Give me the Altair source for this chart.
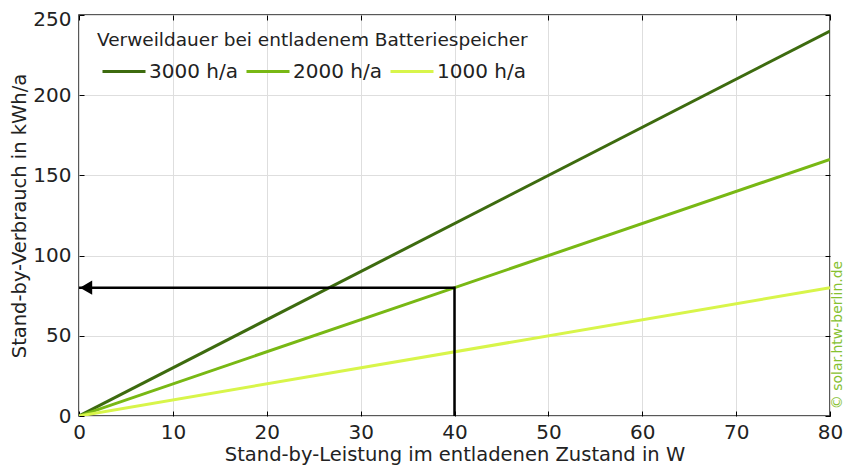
import altair as alt
import pandas as pd

# ---- data ----
power_w = [0, 80]
series = ["3000 h/a", "2000 h/a", "1000 h/a"]
kwh_3000 = [0, 240]
kwh_2000 = [0, 160]
kwh_1000 = [0, 80]
colors = ["#3d6b0f", "#78b814", "#d8f54a"]
arrow_x = [40, 40, 0]
arrow_y = [0, 80, 80]
arrow_order = [0, 1, 2]
head_x = [0.75]
head_y = [80]
x_ticks = [0, 10, 20, 30, 40, 50, 60, 70, 80]
y_ticks = [0, 50, 100, 150, 200, 250]
watermark = ["© solar.htw-berlin.de"]

rows = []
for s, vals in zip(series, [kwh_3000, kwh_2000, kwh_1000]):
    for p, v in zip(power_w, vals):
        rows.append({"series": s, "power": p, "kwh": v})
df = pd.DataFrame(rows)
arrow_df = pd.DataFrame({"x": arrow_x, "y": arrow_y, "o": arrow_order})
head_df = pd.DataFrame({"x": head_x, "y": head_y})
wm_df = pd.DataFrame({"t": watermark})

W, H = 751, 401
FONT = "DejaVu Sans"
TXT = "#222222"
xscale = alt.Scale(domain=[0, 80], nice=False, zero=False)
yscale = alt.Scale(domain=[0, 250], nice=False)

lines = alt.Chart(df).mark_line(strokeWidth=3, clip=True).encode(
    x=alt.X("power:Q", scale=xscale,
            axis=alt.Axis(values=x_ticks, title="Stand-by-Leistung im entladenen Zustand in W",
                          grid=True, gridColor="#dedede", domain=False, ticks=False,
                          labelFlush=False, labelPadding=6, titlePadding=3, format="d")),
    y=alt.Y("kwh:Q", scale=yscale,
            axis=alt.Axis(values=y_ticks, title="Stand-by-Verbrauch in kWh/a",
                          grid=True, gridColor="#dedede", domain=False, ticks=False,
                          labelFlush=False, labelPadding=8, titlePadding=3, format="d",
                          labelOffset=alt.expr("datum.value == 250 ? 4 : 0"))),
    color=alt.Color("series:N", scale=alt.Scale(domain=series, range=colors),
                    legend=alt.Legend(title="Verweildauer bei entladenem Batteriespeicher",
                                      orient="none", legendX=18, legendY=16,
                                      direction="horizontal", columns=3,
                                      symbolType="stroke", symbolSize=1849,
                                      symbolStrokeWidth=3, symbolOffset=4,
                                      labelOffset=2, columnPadding=2,
                                      titlePadding=-1, titleLimit=800, labelLimit=300)),
    detail="series:N",
)

tick_axis = dict(grid=False, domain=False, labels=False, title=None, ticks=True,
                 tickSize=5, tickColor="black", tickWidth=1, offset=-5)

arrow = alt.Chart(arrow_df).mark_line(color="black", strokeWidth=2.5, strokeCap="butt").encode(
    x=alt.X("x:Q", scale=xscale, axis=alt.Axis(values=x_ticks, orient="bottom", **tick_axis)),
    y=alt.Y("y:Q", scale=yscale, axis=alt.Axis(values=y_ticks, orient="left", **tick_axis)),
    order="o:Q",
)

head = alt.Chart(head_df).mark_point(shape="triangle-left", filled=True, color="black",
                                     size=200, opacity=1).encode(
    x=alt.X("x:Q", scale=xscale, axis=alt.Axis(values=x_ticks, orient="top", **tick_axis)),
    y=alt.Y("y:Q", scale=yscale, axis=alt.Axis(values=y_ticks, orient="right", **tick_axis)),
)

wm = alt.Chart(wm_df).mark_text(angle=270, align="center", baseline="alphabetic",
                                fontSize=14, font=FONT, color="#86c130").encode(
    text="t:N", x=alt.value(W + 12), y=alt.value(320)
)

chart = alt.layer(lines, arrow, head, wm).resolve_axis(
    x="independent", y="independent"
).properties(
    width=W, height=H,
    autosize=alt.AutoSizeParams(type="none"),
    padding={"left": 71, "top": 7, "right": 837 - 71 - W, "bottom": 49},
).configure_view(
    stroke="#222222", strokeWidth=1.5
).configure_axis(
    labelFont=FONT, titleFont=FONT, labelFontSize=20, titleFontSize=19.5,
    labelColor=TXT, titleColor=TXT, titleFontWeight="normal"
).configure_legend(
    labelFont=FONT, titleFont=FONT, labelFontSize=20, titleFontSize=18.5,
    labelColor=TXT, titleColor=TXT, titleFontWeight="normal"
)

chart.save("out.html", embed_options={"renderer": "svg", "actions": False})
